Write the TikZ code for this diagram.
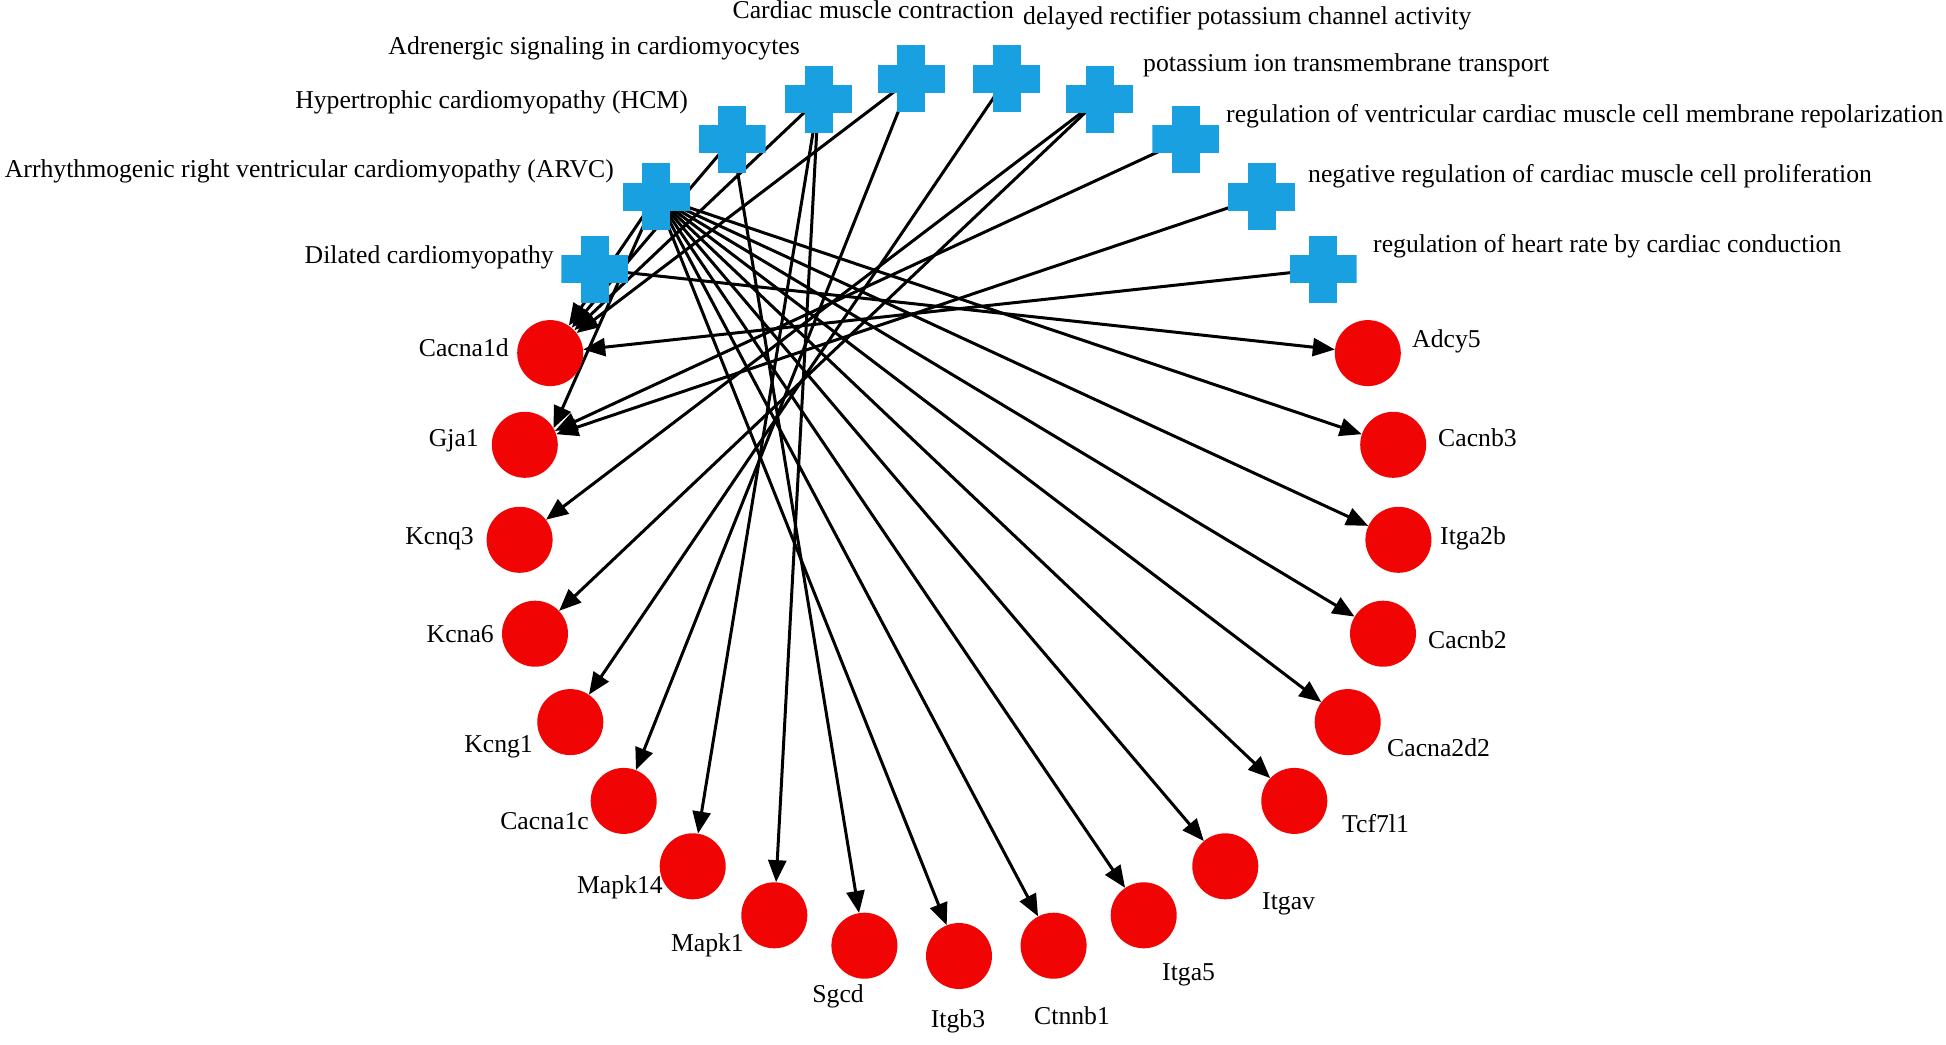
\documentclass[tikz,border=0pt]{standalone}
\usepackage{fontspec}
\setmainfont{Liberation Serif}
\usetikzlibrary{arrows.meta,backgrounds}
\definecolor{crossblue}{RGB}{24,160,224}
\definecolor{genered}{RGB}{240,4,4}
\begin{document}
\begin{tikzpicture}[x=1pt,y=-1pt,
  gene/.style={circle,fill=genered,minimum size=66pt,inner sep=0pt,draw=none},
  term/.style={rectangle,minimum size=67pt,inner sep=0pt,draw=none,
    path picture={
      \fill[crossblue] ([xshift=-14pt]path picture bounding box.north) rectangle ([xshift=14pt]path picture bounding box.south);
      \fill[crossblue] ([yshift=-14pt]path picture bounding box.west) rectangle ([yshift=14pt]path picture bounding box.east);}},
  lbl/.style={inner sep=0pt,font=\fontsize{25.7}{30}\selectfont,text=black},
  link/.style={line width=3pt,-{Triangle[length=22pt,width=18pt]}}]
\useasboundingbox (0,0) rectangle (1946,1044);
% genes
\node[gene] (itgb3) at (959,956) {};
\node[gene] (ctnnb1) at (1053.6,945.7) {};
\node[gene] (itga5) at (1143.7,915.3) {};
\node[gene] (itgav) at (1225.3,866.3) {};
\node[gene] (tcf7l1) at (1294.3,800.9) {};
\node[gene] (cacna2d2) at (1347.7,722.1) {};
\node[gene] (cacnb2) at (1383.0,633.7) {};
\node[gene] (itga2b) at (1398.4,539.8) {};
\node[gene] (cacnb3) at (1393.2,444.8) {};
\node[gene] (adcy5) at (1367.8,353.1) {};
\node[gene] (cacna1d) at (550.2,353.1) {};
\node[gene] (gja1) at (524.8,444.8) {};
\node[gene] (kcnq3) at (519.6,539.8) {};
\node[gene] (kcna6) at (535.0,633.7) {};
\node[gene] (kcng1) at (570.3,722.1) {};
\node[gene] (cacna1c) at (623.7,800.9) {};
\node[gene] (mapk14) at (692.7,866.3) {};
\node[gene] (mapk1) at (774.3,915.3) {};
\node[gene] (sgcd) at (864.4,945.7) {};
% terms
\node[term] (heart) at (1323.2,269.1) {};
\node[term] (negreg) at (1261.6,196.6) {};
\node[term] (regvent) at (1185.8,139.0) {};
\node[term] (potas) at (1099.5,99.0) {};
\node[term] (delayed) at (1006.6,78.6) {};
\node[term] (cardiac) at (911.4,78.6) {};
\node[term] (adren) at (818.5,99.0) {};
\node[term] (hcm) at (732.2,139.0) {};
\node[term] (arvc) at (656.4,196.6) {};
\node[term] (dilated) at (594.8,269.1) {};
% edges
\begin{pgfonlayer}{background}
\fill[white] (0,0) rectangle (1946,1044);
\draw[link] (arvc.center) -- (cacna1d);
\draw[link] (arvc.center) -- (gja1.30);
\draw[link] (arvc.center) -- (cacnb3);
\draw[link] (arvc.center) -- (itga2b);
\draw[link] (arvc.center) -- (cacnb2);
\draw[link] (arvc.center) -- (cacna2d2);
\draw[link] (arvc.center) -- (tcf7l1);
\draw[link] (arvc.center) -- (itgav);
\draw[link] (arvc.center) -- (itga5);
\draw[link] (arvc.center) -- (ctnnb1);
\draw[link] (arvc.center) -- (itgb3);
\draw[link] (dilated.center) -- (adcy5);
\draw[link] (hcm.center) -- (cacna1d);
\draw[link] (hcm.center) -- (sgcd);
\draw[link] (adren.center) -- (cacna1d);
\draw[link] (adren.center) -- (mapk14);
\draw[link] (adren.center) -- (mapk1);
\draw[link] (cardiac.center) -- (cacna1c);
\draw[link] (cardiac.center) -- (cacna1d);
\draw[link] (delayed.center) -- (kcng1);
\draw[link] (potas.center) -- (kcnq3);
\draw[link] (potas.center) -- (kcna6);
\draw[link] (regvent.center) -- (gja1);
\draw[link] (negreg.center) -- (gja1);
\draw[link] (heart.center) -- (cacna1d);
\end{pgfonlayer}
% gene labels
\node[lbl,anchor=mid east] (lcacna1d) at (509,354) {Cacna1d};
\node[lbl,anchor=mid east] (lgja1) at (479,444) {Gja1};
\node[lbl,anchor=mid east] (lkcnq3) at (474,542) {Kcnq3};
\node[lbl,anchor=mid east] (lkcna6) at (494,640) {Kcna6};
\node[lbl,anchor=mid east] (lkcng1) at (533,750) {Kcng1};
\node[lbl,anchor=mid east] (lcacna1c) at (589,827) {Cacna1c};
\node[lbl,anchor=mid east] (lmapk14) at (663,891) {Mapk14};
\node[lbl,anchor=mid east] (lmapk1) at (744,949) {Mapk1};
\node[lbl,anchor=mid east] (lsgcd) at (864,1000) {Sgcd};
\node[lbl,anchor=mid] (litgb3) at (958,1025) {Itgb3};
\node[lbl,anchor=mid west] (lctnnb1) at (1034,1022) {Ctnnb1};
\node[lbl,anchor=mid west] (litga5) at (1162,978) {Itga5};
\node[lbl,anchor=mid west] (litgav) at (1262,907) {Itgav};
\node[lbl,anchor=mid west] (ltcf7l1) at (1342,830) {Tcf7l1};
\node[lbl,anchor=mid west] (lcacna2d2) at (1387,754) {Cacna2d2};
\node[lbl,anchor=mid west] (lcacnb2) at (1428,646) {Cacnb2};
\node[lbl,anchor=mid west] (litga2b) at (1440,542) {Itga2b};
\node[lbl,anchor=mid west] (lcacnb3) at (1438,444) {Cacnb3};
\node[lbl,anchor=mid west] (ladcy5) at (1412,345) {Adcy5};
% term labels
\node[lbl,anchor=mid east] (ldilated) at (554,261) {Dilated cardiomyopathy};
\node[lbl,anchor=mid east] (larvc) at (614,175) {Arrhythmogenic right ventricular cardiomyopathy (ARVC)};
\node[lbl,anchor=mid east] (lhcm) at (688,106) {Hypertrophic cardiomyopathy (HCM)};
\node[lbl,anchor=mid east] (ladren) at (800,52) {Adrenergic signaling in cardiomyocytes};
\node[lbl,anchor=mid east] (lcardiac) at (1014,16) {Cardiac muscle contraction};
\node[lbl,anchor=mid west] (ldelayed) at (1023,22) {delayed rectifier potassium channel activity};
\node[lbl,anchor=mid west] (lpotas) at (1143,69) {potassium ion transmembrane transport};
\node[lbl,anchor=mid west] (lregvent) at (1226,120) {regulation of ventricular cardiac muscle cell membrane repolarization};
\node[lbl,anchor=mid west] (lnegreg) at (1308,180) {negative regulation of cardiac muscle cell proliferation};
\node[lbl,anchor=mid west] (lheart) at (1373,250) {regulation of heart rate by cardiac conduction};
\end{tikzpicture}
\end{document}
